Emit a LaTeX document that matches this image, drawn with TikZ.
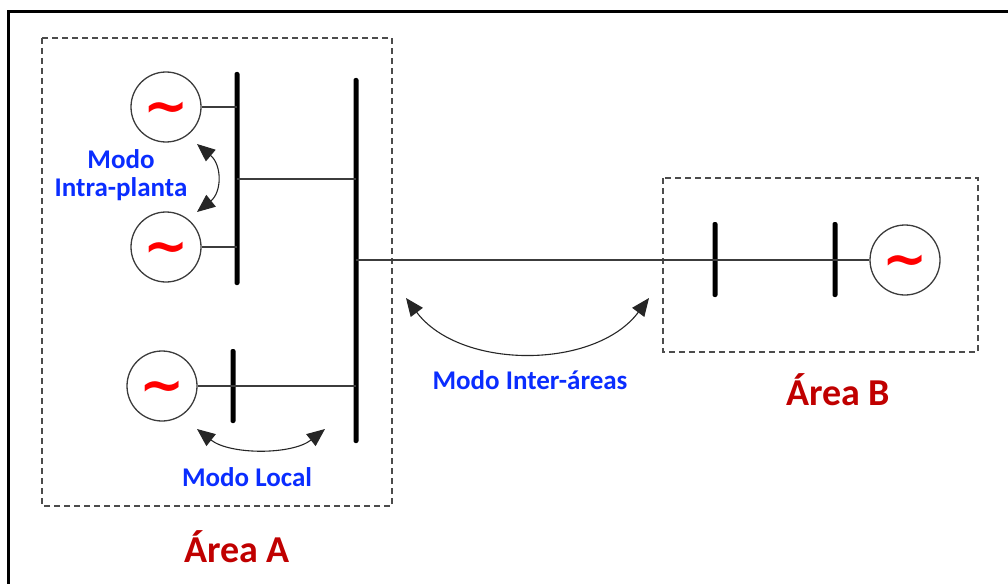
\documentclass[tikz,border=0pt]{standalone}
\usepackage{fontspec}
\setmainfont{Carlito}
\newfontfamily\tildefont{DejaVu Sans}
\usetikzlibrary{arrows.meta}
\definecolor{modoblue}{RGB}{10,45,255}
\definecolor{areared}{RGB}{192,0,0}
\definecolor{tildered}{RGB}{255,0,0}
\definecolor{wiregray}{RGB}{60,60,60}
\newcommand{\gentilde}{\raisebox{-17.5pt}{\char"007E}}
\begin{document}
\begin{tikzpicture}[x=1pt,y=-1pt,
  gen/.style={circle,draw=wiregray,line width=1.3pt,minimum size=70pt,inner sep=0pt,
    text height=0pt,text depth=0pt,
    font=\tildefont\bfseries\fontsize{54}{54}\selectfont,text=tildered},
  bus/.style={rectangle,fill=black,minimum width=5pt,inner sep=0pt,rounded corners=2pt},
  wire/.style={draw=wiregray,line width=1.3pt},
  area/.style={draw=black!70,dashed,dash pattern=on 6pt off 4pt,line width=1.3pt},
  modo/.style={text=modoblue,font=\bfseries\fontsize{27}{28}\selectfont,align=center},
  arealabel/.style={text=areared,font=\bfseries\fontsize{38}{40}\selectfont},
  osc/.style={draw=black!85,line width=1.1pt,{Triangle[length=18pt,width=15pt]}-{Triangle[length=18pt,width=15pt]}}
]
\useasboundingbox (0,0) rectangle (1008,583);
% outer frame (only top and left edges visible)
\draw[line width=3pt] (8,590) -- (8,12) -- (1010,12);
% area boxes
\draw[area] (42,38) rectangle (392,506);
\draw[area] (663,178) rectangle (978,352);
% buses
\node[bus,minimum height=213pt] (b1) at (237,178.5) {};
\node[bus,minimum height=365pt] (b2) at (356,260.5) {};
\node[bus,minimum height=74pt] (b3) at (233,386) {};
\node[bus,minimum height=75pt] (bB1) at (715,259.5) {};
\node[bus,minimum height=75pt] (bB2) at (835,259.5) {};
% generators
\node[gen] (g1) at (166,107) {\gentilde};
\node[gen] (g2) at (166,247) {\gentilde};
\node[gen] (g3) at (162,386) {\gentilde};
\node[gen] (gB) at (905,260) {\gentilde};
% wires
\coordinate (t12) at (300,179);
\draw[wire] (g1) -- (g1 -| b1);
\draw[wire] (g2) -- (g2 -| b1);
\draw[wire] (g3) -- (g3 -| b2);
\draw[wire] (b1 |- t12) -- (b2 |- t12);
\draw[wire] (b2.center |- gB.center) -- (gB);
% oscillation arrows
\coordinate (ia1) at (197,144); \coordinate (ia2) at (197,212);
\draw[osc] (ia1) .. controls (222,165) and (222,192) .. (ia2);
\coordinate (lo1) at (197,429); \coordinate (lo2) at (325,429);
\draw[osc] (lo1) .. controls (230,455) and (292,455) .. (lo2);
\coordinate (ie1) at (406,298); \coordinate (ie2) at (649,298);
\draw[osc] (ie1) .. controls (460,370) and (595,370) .. (ie2);
% labels
\node[modo] (lintra) at (121,175) {Modo\\Intra-planta};
\node[modo] (llocal) at (247,477) {Modo Local};
\node[modo] (linter) at (530,380) {Modo Inter-áreas};
\node[arealabel] (lA) at (237,547) {Área A};
\node[arealabel] (lB) at (838,390) {Área B};
\end{tikzpicture}
\end{document}
